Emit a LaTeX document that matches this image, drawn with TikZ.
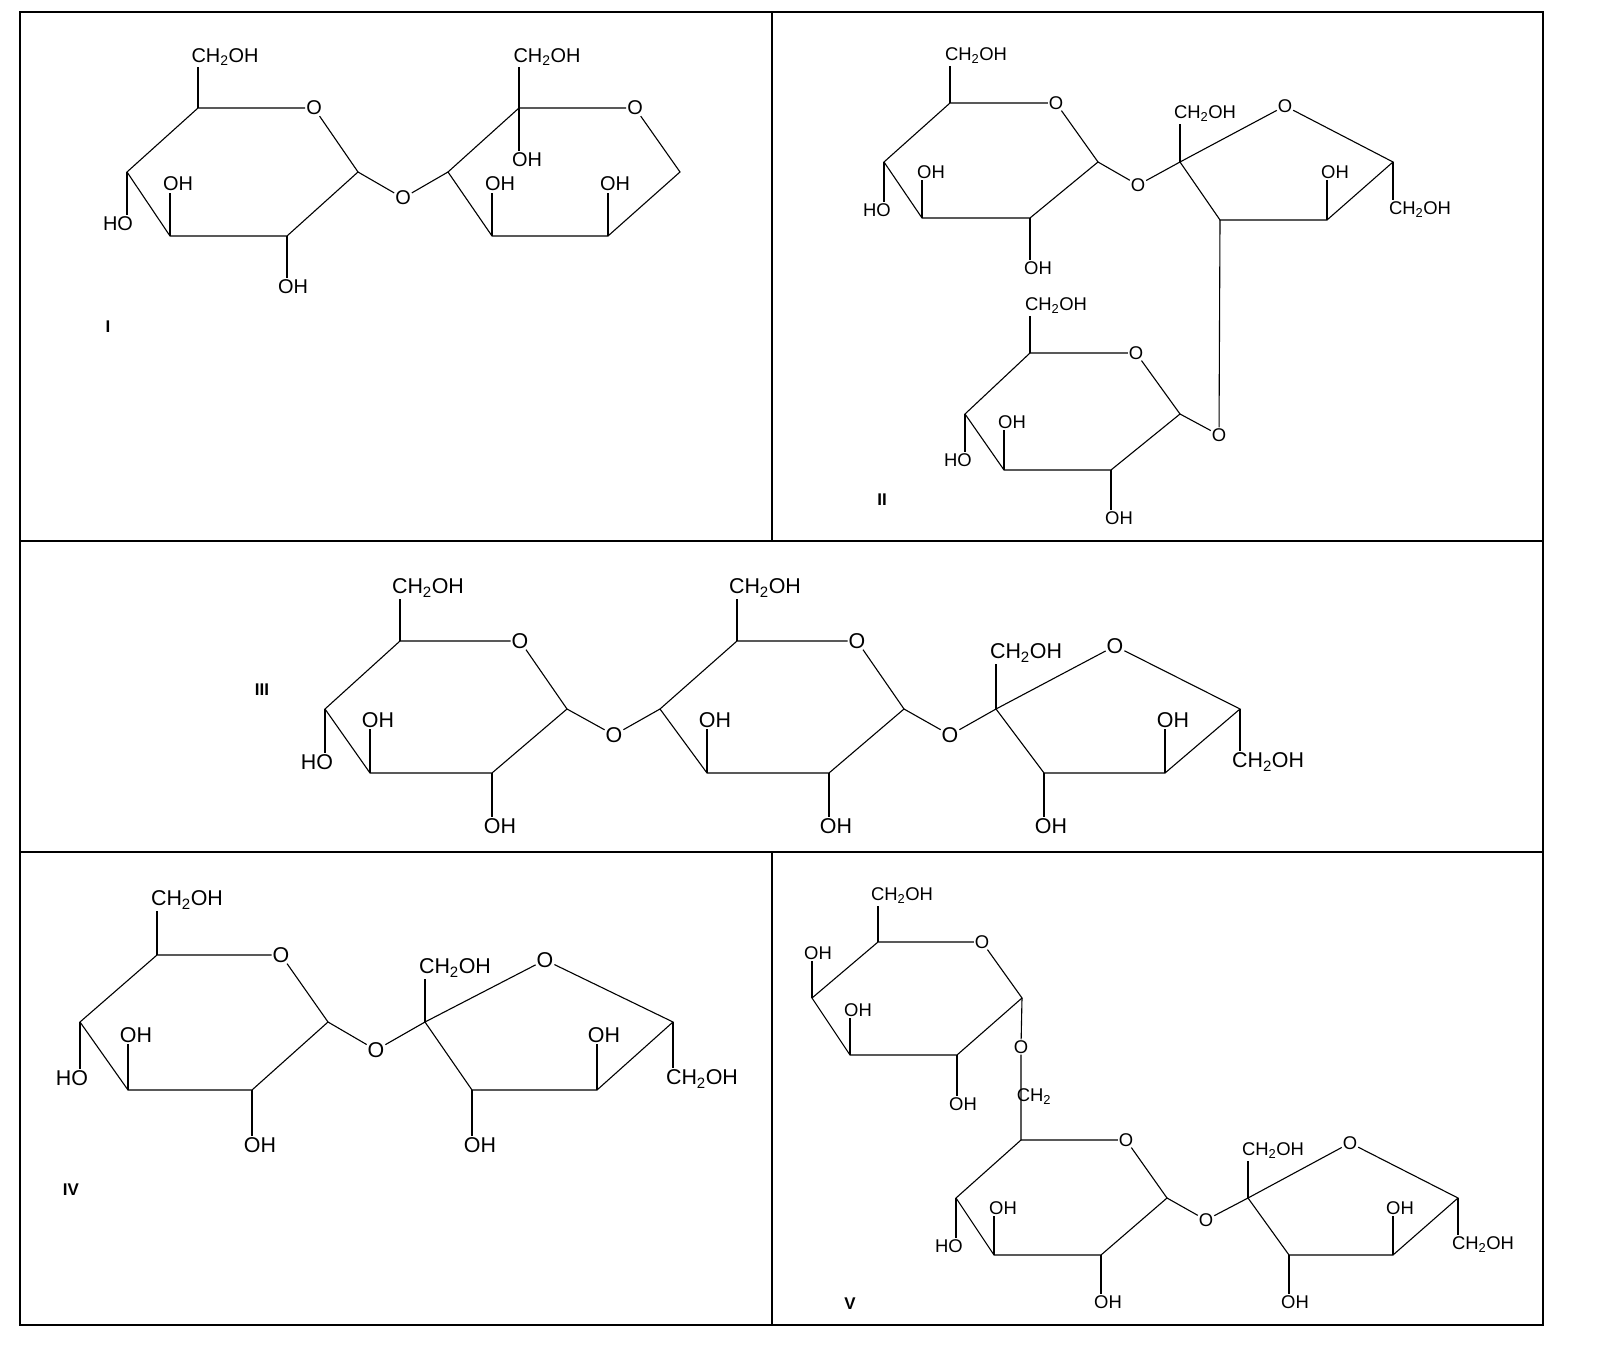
\documentclass[tikz,border=0pt]{standalone}
\usepackage{fontspec}
\setmainfont{Liberation Sans}
\newcommand\chh{CH\textsubscript{2}OH}
\newcommand\pyr[7]{\coordinate (#1a) at #2; \node[ox] (#1o) at #3 {O}; \coordinate (#1b) at #4; \coordinate (#1c) at #5; \coordinate (#1d) at #6; \coordinate (#1e) at #7;
 \draw (#1a)--(#1o)--(#1b)--(#1c)--(#1d)--(#1e)--(#1a);}
\newcommand\fur[6]{\coordinate (#1a) at #2; \node[ox] (#1o) at #3 {O}; \coordinate (#1b) at #4; \coordinate (#1c) at #5; \coordinate (#1d) at #6;
 \draw (#1a)--(#1o)--(#1b)--(#1c)--(#1d)--(#1a);}
\newcommand\up[4]{\node[lab] (#2) at #3 {#4}; \draw (#1)--(#1|-#2.south);}
\newcommand\dn[4]{\node[lab] (#2) at #3 {#4}; \draw (#1)--(#1|-#2.north);}
\begin{document}
\begin{tikzpicture}[x=1bp,y=-1bp,line width=1.1bp,
 lab/.style={inner sep=1pt},
 ox/.style={inner sep=0.5pt},
 big/.style={font=\fontsize{21.5}{24}\selectfont},
 mid/.style={font=\fontsize{20}{23}\selectfont},
 sml/.style={font=\fontsize{18.5}{21}\selectfont},
 num/.style={font=\bfseries\fontsize{17}{20}\selectfont}]
\useasboundingbox (0,0) rectangle (1597,1362);
\fill[white] (0,0) rectangle (1597,1362);
\draw (20,12) rectangle (1543,1325);
\draw (20,541)--(1543,541);
\draw (20,852)--(1543,852);
\draw (772,12)--(772,541);
\draw (772,852)--(772,1325);
% ---------- Panel I
\begin{scope}[mid]
\pyr{p}{(198,108)}{(314,108)}{(358,172)}{(287,236)}{(170,236)}{(127,172)}
\up{pa}{p1}{(225,57)}{\chh}
\up{pd}{p2}{(178,184)}{OH}
\dn{pe}{p3}{(118,224)}{HO}
\dn{pc}{p4}{(293,287)}{OH}
\node[ox] (pg) at (403,198) {O};
\pyr{q}{(519,108)}{(635,108)}{(680,172)}{(608,236)}{(492,236)}{(448,172)}
\draw (pb)--(pg)--(qe);
\up{qa}{q1}{(547,57)}{\chh}
\dn{qa}{q2}{(527,160)}{OH}
\up{qd}{q3}{(500,184)}{OH}
\up{qc}{q4}{(615,184)}{OH}
\node[num] (n1) at (108,327) {I};
\end{scope}
% ---------- Panel II
\begin{scope}[sml]
\pyr{r}{(950,103)}{(1056,103)}{(1098,162)}{(1030,218)}{(922,218)}{(884,162)}
\up{ra}{r1}{(976,56)}{\chh}
\up{rd}{r2}{(931,172)}{OH}
\dn{re}{r3}{(877,210)}{HO}
\dn{rc}{r4}{(1038,268)}{OH}
\node[ox] (rg) at (1138,185) {O};
\fur{s}{(1180,162)}{(1285,106)}{(1393,162)}{(1327,220)}{(1220,220)}
\draw (rb)--(rg)--(sa);
\up{sa}{s1}{(1205,114)}{\chh}
\up{sc}{s2}{(1335,172)}{OH}
\dn{sb}{s3}{(1420,210)}{\chh}
\pyr{t}{(1030,353)}{(1136,353)}{(1180,414)}{(1111,470)}{(1004,470)}{(965,414)}
\node[ox] (tg) at (1219,435) {O};
\draw (sd)--(tg)--(tb);
\up{ta}{t1}{(1056,306)}{\chh}
\up{td}{t2}{(1012,422)}{OH}
\dn{te}{t3}{(958,460)}{HO}
\dn{tc}{t4}{(1119,518)}{OH}
\node[num] (n2) at (882,500) {II};
\end{scope}
% ---------- Panel III
\begin{scope}[big]
\pyr{u}{(400,641)}{(520,641)}{(567,709)}{(492,773)}{(370,773)}{(325,709)}
\up{ua}{u1}{(428,588)}{\chh}
\up{ud}{u2}{(378,720)}{OH}
\dn{ue}{u3}{(317,762)}{HO}
\dn{uc}{u4}{(500,826)}{OH}
\node[ox] (ug) at (614,735) {O};
\pyr{v}{(737,641)}{(857,641)}{(904,709)}{(829,773)}{(707,773)}{(660,709)}
\draw (ub)--(ug)--(ve);
\up{va}{v1}{(765,588)}{\chh}
\up{vd}{v2}{(715,720)}{OH}
\dn{vc}{v4}{(836,826)}{OH}
\node[ox] (vg) at (950,735) {O};
\fur{w}{(996,709)}{(1115,646)}{(1240,709)}{(1165,773)}{(1044,773)}
\draw (vb)--(vg)--(wa);
\up{wa}{w1}{(1026,653)}{\chh}
\up{wc}{w2}{(1173,720)}{OH}
\dn{wb}{w3}{(1268,762)}{\chh}
\dn{wd}{w4}{(1051,826)}{OH}
\node[num] (n3) at (262,690) {III};
\end{scope}
% ---------- Panel IV
\begin{scope}[big]
\pyr{x}{(157,955)}{(281,955)}{(328,1022)}{(252,1090)}{(128,1090)}{(80,1022)}
\up{xa}{x1}{(187,900)}{\chh}
\up{xd}{x2}{(136,1035)}{OH}
\dn{xe}{x3}{(72,1078)}{HO}
\dn{xc}{x4}{(260,1145)}{OH}
\node[ox] (xg) at (376,1050) {O};
\fur{y}{(425,1022)}{(545,960)}{(673,1022)}{(597,1090)}{(472,1090)}
\draw (xb)--(xg)--(ya);
\up{ya}{y1}{(455,968)}{\chh}
\up{yc}{y2}{(604,1035)}{OH}
\dn{yb}{y3}{(702,1079)}{\chh}
\dn{yd}{y4}{(480,1145)}{OH}
\node[num] (n4) at (71,1190) {IV};
\end{scope}
% ---------- Panel V
\begin{scope}[sml]
\pyr{z}{(878,942)}{(982,942)}{(1022,998)}{(957,1055)}{(850,1055)}{(812,998)}
\up{za}{z1}{(902,896)}{\chh}
\up{ze}{z2}{(818,953)}{OH}
\up{zd}{z3}{(858,1010)}{OH}
\dn{zc}{z4}{(963,1104)}{OH}
\node[ox] (zg) at (1021,1047) {O};
\pyr{k}{(1021,1140)}{(1126,1140)}{(1167,1198)}{(1101,1255)}{(994,1255)}{(956,1198)}
\draw (zb)--(zg)--(ka);
\node[lab] (ch2) at (1034,1097) {CH\textsubscript{2}};
\up{kd}{k2}{(1003,1208)}{OH}
\dn{ke}{k3}{(949,1246)}{HO}
\dn{kc}{k4}{(1108,1302)}{OH}
\node[ox] (kg) at (1206,1220) {O};
\fur{m}{(1248,1198)}{(1350,1143)}{(1458,1198)}{(1393,1255)}{(1289,1255)}
\draw (kb)--(kg)--(ma);
\up{ma}{m1}{(1273,1151)}{\chh}
\up{mc}{m2}{(1400,1208)}{OH}
\dn{mb}{m3}{(1483,1245)}{\chh}
\dn{md}{m4}{(1295,1302)}{OH}
\node[num] (n5) at (850,1304) {V};
\end{scope}
\end{tikzpicture}
\end{document}
